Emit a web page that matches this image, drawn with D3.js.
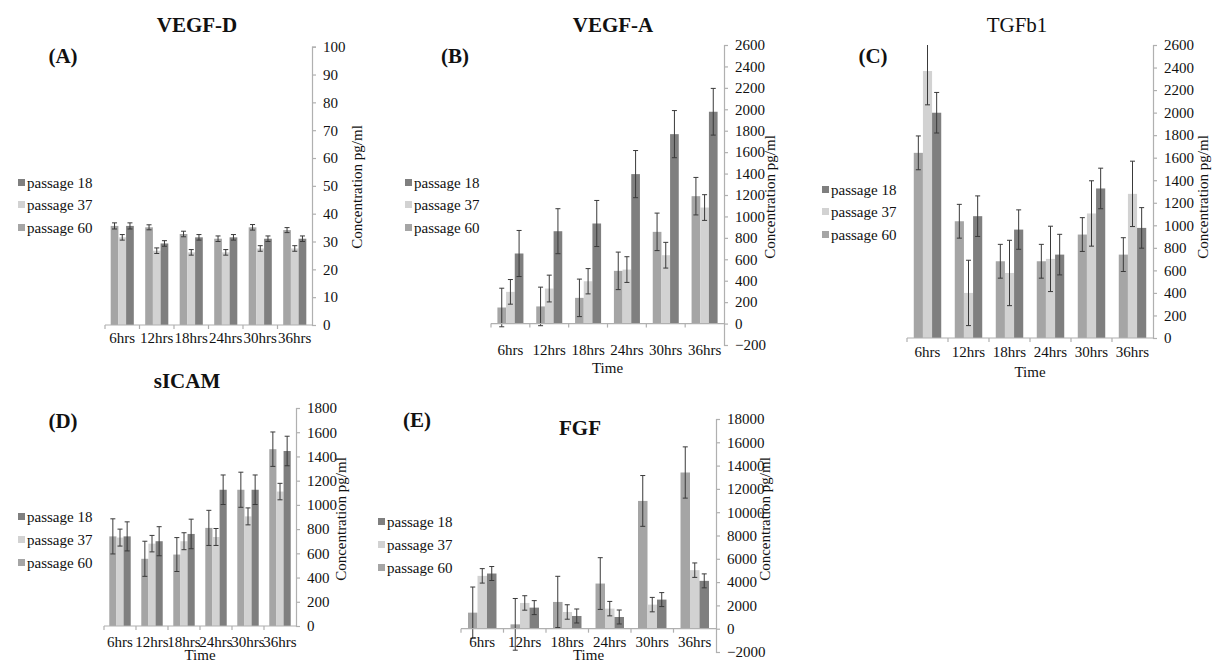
<!DOCTYPE html>
<html><head><meta charset="utf-8">
<script src="https://cdn.jsdelivr.net/npm/d3@7"></script>
<style>
html,body{margin:0;padding:0;background:#fff;}
</style></head>
<body><svg id="c" width="1214" height="663"></svg>
<script>
// ---------- data ----------
const categories = ["6hrs","12hrs","18hrs","24hrs","30hrs","36hrs"];
const barSeries = ["passage 60","passage 37","passage 18"];      // bar order within a group
const legendSeries = ["passage 18","passage 37","passage 60"];   // legend order

// VEGF-D
const vegfD_p60 = [35.6,35.1,32.7,31.0,35.1,34.1];
const vegfD_p37 = [31.5,26.7,26.1,26.1,27.5,27.5];
const vegfD_p18 = [35.6,29.3,31.5,31.5,31.0,31.0];
const vegfD_e60 = [1.1,0.9,1.0,1.0,1.0,0.9];
const vegfD_e37 = [1.0,1.0,1.0,1.0,1.0,1.0];
const vegfD_e18 = [1.1,1.0,1.0,1.0,1.0,1.0];
const vegfD_ticks = d3.range(0,101,10);

// VEGF-A
const vegfA_p60 = [150,160,240,492,856,1189];
const vegfA_p37 = [296,327,395,504,638,1083];
const vegfA_p18 = [654,862,934,1395,1768,1977];
const vegfA_e60 = [180,180,175,175,175,175];
const vegfA_e37 = [115,125,118,120,120,120];
const vegfA_e18 = [215,210,215,220,220,218];
const vegfA_ticks = d3.range(-200,2601,200);

// TGFb1
const tgf_p60 = [1643,1036,681,681,918,740];
const tgf_p37 = [2369,400,577,702,1105,1279];
const tgf_p18 = [1999,1081,962,740,1327,977];
const tgf_e60 = [150,150,150,150,150,150];
const tgf_e37 = [300,290,290,290,290,290];
const tgf_e18 = [180,180,175,180,180,180];
const tgf_ticks = d3.range(0,2601,200);

// sICAM
const sicam_p60 = [740,555,590,810,1125,1460];
const sicam_p37 = [730,680,700,735,905,1110];
const sicam_p18 = [740,700,760,1125,1125,1445];
const sicam_e60 = [145,145,140,145,145,142];
const sicam_e37 = [70,68,70,70,70,68];
const sicam_e18 = [120,120,122,122,122,122];
const sicam_ticks = d3.range(0,1801,200);

// FGF
const fgf_p60 = [1378,373,2297,3876,10967,13408];
const fgf_p37 = [4536,2210,1435,1722,2067,5024];
const fgf_p18 = [4737,1809,1091,1005,2498,4106];
const fgf_e60 = [2200,2220,2200,2220,2180,2200];
const fgf_e37 = [620,620,620,620,620,620];
const fgf_e18 = [600,600,600,600,600,600];
const fgf_ticks = d3.range(-2000,18001,2000);

const axisLabel = "Concentration pg/ml";
const timeLabel = "Time";

// ---------- styles ----------
const FONT = "Liberation Serif";
const colors = {"passage 60":"#a5a5a5","passage 37":"#d2d2d2","passage 18":"#7f7f7f"};
const axisColor = "#b0b0b0";

// ---------- layout ----------
const panels = [
 {title:"VEGF-D", tag:"(A)", vals:[vegfD_p60,vegfD_p37,vegfD_p18], errs:[vegfD_e60,vegfD_e37,vegfD_e18], ticks:vegfD_ticks,
  xl:105, xr:312, yb:325, yt:46.7, lblY:343, time:false, titleX:197, titleY:32, titleBold:true, tagX:63, tagY:63,
  legX:18, legY:[188,210,233], ylabX:362, ylabY:187},
 {title:"VEGF-A", tag:"(B)", vals:[vegfA_p60,vegfA_p37,vegfA_p18], errs:[vegfA_e60,vegfA_e37,vegfA_e18], ticks:vegfA_ticks,
  xl:491, xr:724, yb:345, yt:45, lblY:355, time:true, timeY:373, titleX:613, titleY:32, titleBold:true, tagX:455, tagY:63,
  legX:405, legY:[188,210,233], ylabX:775, ylabY:197},
 {title:"TGFb1", tag:"(C)", vals:[tgf_p60,tgf_p37,tgf_p18], errs:[tgf_e60,tgf_e37,tgf_e18], ticks:tgf_ticks,
  xl:907, xr:1153, yb:338, yt:45, lblY:357, time:true, timeY:377, titleX:1017, titleY:32, titleBold:false, tagX:873, tagY:63,
  legX:822, legY:[195,217,240], ylabX:1208, ylabY:197},
 {title:"sICAM", tag:"(D)", vals:[sicam_p60,sicam_p37,sicam_p18], errs:[sicam_e60,sicam_e37,sicam_e18], ticks:sicam_ticks,
  xl:104, xr:296, yb:626, yt:408, lblY:647, time:true, timeY:660, titleX:187, titleY:388, titleBold:true, tagX:63, tagY:428,
  legX:18, legY:[522,545,568], ylabX:346, ylabY:519},
 {title:"FGF", tag:"(E)", vals:[fgf_p60,fgf_p37,fgf_p18], errs:[fgf_e60,fgf_e37,fgf_e18], ticks:fgf_ticks,
  xl:461, xr:716, yb:652, yt:419, lblY:647, time:true, timeY:660, titleX:580, titleY:435, titleBold:true, tagX:417, tagY:427,
  legX:378, legY:[527,550,573], ylabX:770, ylabY:519}
];

const svg = d3.select("#c");

function txt(sel){ return sel.attr("font-family", FONT).attr("fill","#111"); }

panels.forEach(p => {
  const g = svg.append("g");
  const ext = d3.extent(p.ticks);
  const y = d3.scaleLinear().domain(ext).range([p.yb, p.yt]);
  const x = d3.scaleBand().domain(categories).range([p.xl, p.xr]).paddingInner(0.33).paddingOuter(0.165);
  const xs = d3.scaleBand().domain(barSeries).range([0, x.bandwidth()]);
  const y0 = y(0);

  // bars
  barSeries.forEach((s, si) => {
    g.append("g").selectAll("rect").data(categories).join("rect")
      .attr("x", c => x(c) + xs(s))
      .attr("width", xs.bandwidth())
      .attr("y", (c,i) => Math.min(y(p.vals[si][i]), y0))
      .attr("height", (c,i) => Math.abs(y0 - y(p.vals[si][i])))
      .attr("fill", colors[s]);
  });
  // error bars
  barSeries.forEach((s, si) => {
    const eg = g.append("g").attr("stroke","#3a3a3a").attr("stroke-width",1);
    categories.forEach((c,i) => {
      const cx = x(c) + xs(s) + xs.bandwidth()/2;
      const v = p.vals[si][i], e = p.errs[si][i];
      const top = Math.min(v+e, ext[1]), bot = Math.max(v-e, ext[0]);
      eg.append("line").attr("x1",cx).attr("x2",cx).attr("y1",y(top)).attr("y2",y(bot));
      if (v+e <= ext[1]) eg.append("line").attr("x1",cx-2.5).attr("x2",cx+2.5).attr("y1",y(top)).attr("y2",y(top));
      eg.append("line").attr("x1",cx-2.5).attr("x2",cx+2.5).attr("y1",y(bot)).attr("y2",y(bot));
    });
  });

  // x axis line at zero with boundary ticks
  g.append("line").attr("x1",p.xl).attr("x2",p.xr).attr("y1",y0).attr("y2",y0).attr("stroke",axisColor).attr("stroke-width",1.2);
  const step = x.step();
  d3.range(0, categories.length).forEach(i => {
    const bx = p.xl + i*step;
    g.append("line").attr("x1",bx).attr("x2",bx).attr("y1",y0).attr("y2",y0+4).attr("stroke",axisColor).attr("stroke-width",1.2);
  });
  // category labels
  txt(g.append("g").selectAll("text").data(categories).join("text")
    .attr("x", c => x(c) + x.bandwidth()/2).attr("y", p.lblY)
    .attr("text-anchor","middle").attr("font-size",15)).text(c => c);
  if (p.time) txt(g.append("text").attr("x",(p.xl+p.xr)/2).attr("y",p.timeY).attr("text-anchor","middle")
      .attr("font-size",15)).text(timeLabel);

  // y axis on right side
  const ya = d3.axisRight(y).tickValues(p.ticks).tickSize(4).tickPadding(7)
      .tickFormat(d => d < 0 ? "\u2212" + Math.abs(d) : d);
  const ag = g.append("g").attr("transform",`translate(${p.xr},0)`).call(ya).attr("font-family", FONT);
  ag.select(".domain").attr("stroke",axisColor).attr("stroke-width",1.2);
  ag.selectAll(".tick line").attr("stroke",axisColor).attr("stroke-width",1.2);
  txt(ag.selectAll(".tick text")).attr("font-size",15);
  // y label
  txt(g.append("text").attr("transform",`translate(${p.ylabX},${p.ylabY}) rotate(-90)`)
    .attr("text-anchor","middle").attr("font-size",15)).text(axisLabel);

  // titles
  txt(g.append("text").attr("x",p.titleX).attr("y",p.titleY).attr("text-anchor","middle")
    .attr("font-size",21).attr("font-weight",p.titleBold?"bold":"normal")).text(p.title);
  txt(g.append("text").attr("x",p.tagX).attr("y",p.tagY).attr("text-anchor","middle")
    .attr("font-size",21).attr("font-weight","bold")).text(p.tag);

  // legend
  legendSeries.forEach((s, i) => {
    g.append("rect").attr("x",p.legX).attr("y",p.legY[i]-9).attr("width",7).attr("height",7).attr("fill",colors[s]);
    txt(g.append("text").attr("x",p.legX+9).attr("y",p.legY[i]).attr("font-size",15)).text(s);
  });
});
</script></body></html>
